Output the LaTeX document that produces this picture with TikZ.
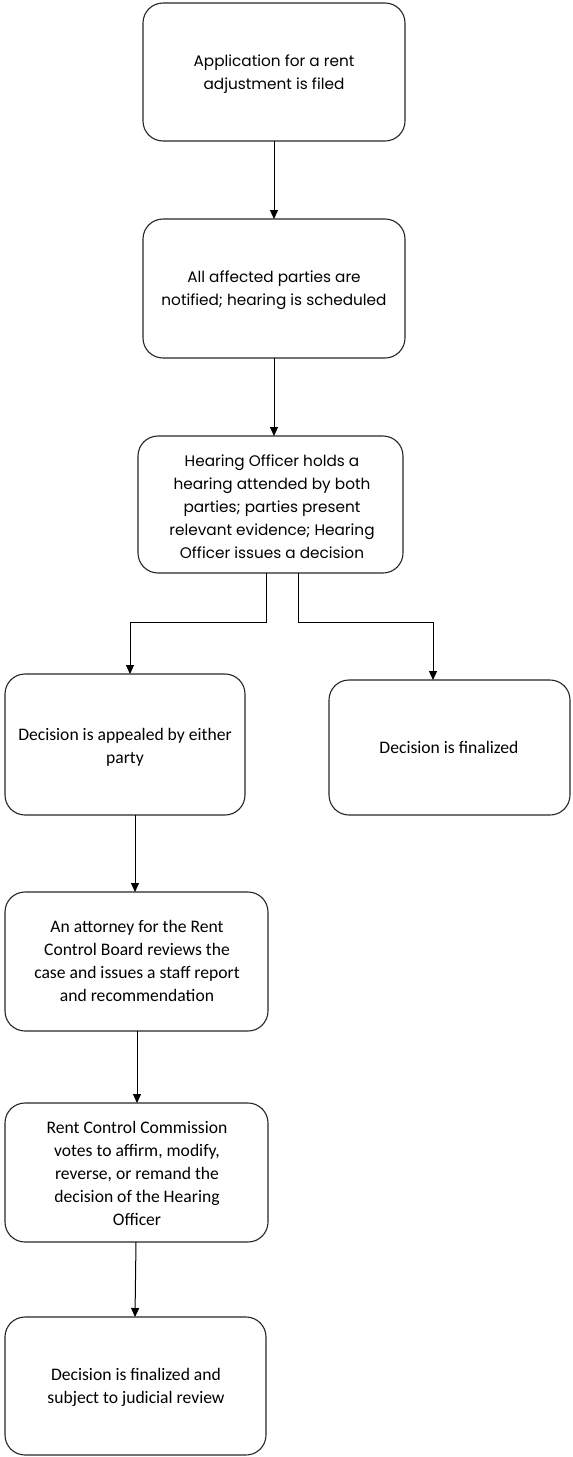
\documentclass[tikz,border=0pt]{standalone}
\usepackage{fontspec}
\setmainfont{Carlito}
\newfontfamily\twfont{Poppins}
\usetikzlibrary{arrows.meta}
\tikzset{
  box/.style={draw=black!85, line width=1.1pt, rounded corners=20pt},
  toptext/.style={align=center, inner sep=0pt, font=\twfont\fontsize{15.3}{23}\selectfont},
  lowtext/.style={align=center, inner sep=0pt, font=\fontsize{17.6}{23}\selectfont},
  flow/.style={draw=black, line width=1pt, -{Triangle[length=9pt,width=8pt]}}
}
\begin{document}
\begin{tikzpicture}[x=1pt,y=-1pt]
\useasboundingbox (0,0) rectangle (573,1457);
% boxes
\draw[box] (143,3) rectangle (405,141);
\node[toptext] (t1) at (274,74) {Application for a rent\\adjustment is filed};
\coordinate (b1s) at (274,141);
\coordinate (b2n) at (274,219);
\draw[box] (143,219) rectangle (405,358);
\node[toptext] (t2) at (274,290) {All affected parties are\\notified; hearing is scheduled};
\coordinate (b2s) at (274,358);
\coordinate (b3n) at (274,436);
\draw[box] (138,436) rectangle (403,573);
\node[toptext] (t3) at (272,507) {Hearing Officer holds a\\hearing attended by both\\parties; parties present\\relevant evidence; Hearing\\Officer issues a decision};
\coordinate (b3l) at (266,573);
\coordinate (b3r) at (298,573);
\coordinate (kl) at (266,622);
\coordinate (kr) at (298,622);
\coordinate (kl2) at (130,622);
\coordinate (kr2) at (433,622);
\coordinate (b4n) at (130,674);
\coordinate (b5n) at (433,680);
\draw[box] (5,674) rectangle (245,815);
\node[lowtext] (t4) at (125,747) {Decision is appealed by either\\party};
\draw[box] (329,680) rectangle (570,815);
\node[lowtext] (t5) at (449,747) {Decision is finalized};
\coordinate (b4s) at (135,815);
\coordinate (b6n) at (135,892);
\draw[box] (5,892) rectangle (268,1031);
\node[lowtext] (t6) at (137,961) {An attorney for the Rent\\Control Board reviews the\\case and issues a staff report\\and recommendation};
\coordinate (b6s) at (137,1031);
\coordinate (b7n) at (137,1103);
\draw[box] (5,1103) rectangle (268,1242);
\node[lowtext] (t7) at (137,1173) {Rent Control Commission\\votes to affirm, modify,\\reverse, or remand the\\decision of the Hearing\\Officer};
\coordinate (b7s) at (136,1242);
\coordinate (b8n) at (135,1317);
\draw[box] (5,1317) rectangle (266,1455);
\node[lowtext] (t8) at (136,1387) {Decision is finalized and\\subject to judicial review};
% connectors
\draw[flow] (b1s) -- (b2n);
\draw[flow] (b2s) -- (b3n);
\draw[flow] (b3l) -- (kl) -- (kl2) -- (b4n);
\draw[flow] (b3r) -- (kr) -- (kr2) -- (b5n);
\draw[flow] (b4s) -- (b6n);
\draw[flow] (b6s) -- (b7n);
\draw[flow] (b7s) -- (b8n);
\end{tikzpicture}
\end{document}
